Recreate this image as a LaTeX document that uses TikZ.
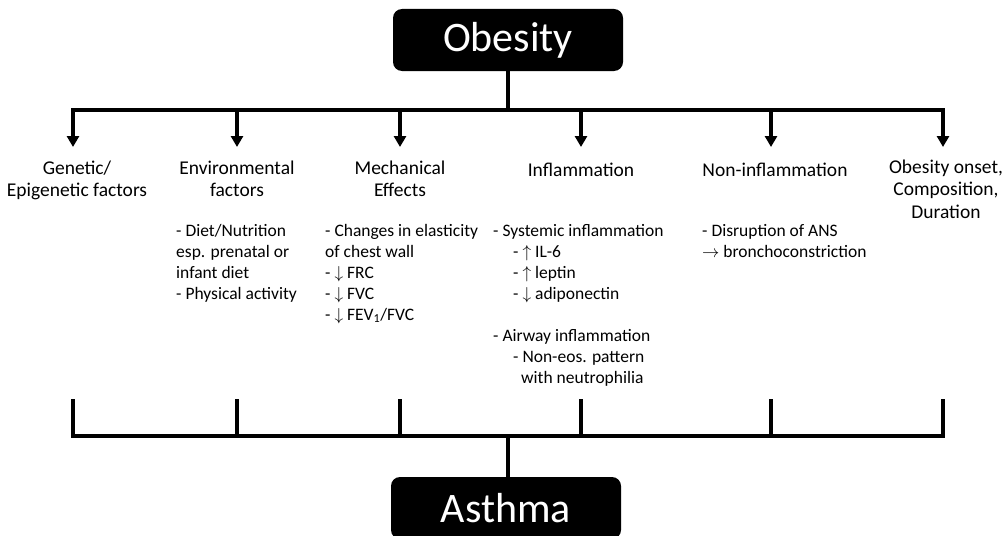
\documentclass[tikz,border=0pt]{standalone}
\usepackage{fontspec}
\setmainfont{Carlito}
\usetikzlibrary{arrows.meta}
\newcommand{\bstrut}{\rule{0pt}{15pt}}
\newcommand{\hstrut}{\rule{0pt}{17pt}}
\begin{document}
\begin{tikzpicture}[x=1pt,y=-1pt,
  bigbox/.style={fill=black, rounded corners=9pt, minimum width=230pt, minimum height=62pt, inner sep=0pt, text=white, font=\fontsize{42}{48}\selectfont},
  heading/.style={align=center, anchor=north, inner sep=0pt, font=\fontsize{19.5}{22.5}\selectfont},
  body/.style={align=left, anchor=north west, inner sep=0pt, font=\fontsize{17.5}{21}\selectfont},
  wire/.style={line width=3.3pt},
  arr/.style={wire, -{Triangle[width=12pt,length=11pt]}}
]
\useasboundingbox (0,0) rectangle (1008,535);
% main boxes
\node[bigbox] (obesity) at (508,40) {Obesity};
\node[bigbox] (asthma) at (506,508) {Asthma};
% junctions
\coordinate (tj) at (508,110);
\coordinate (tl) at (73,110);
\coordinate (tr) at (943,110);
\coordinate (bj) at (508,436);
\coordinate (bl) at (73,436);
\coordinate (br) at (943,436);
\foreach \i/\x in {1/73,2/237,3/400,4/581,5/771,6/943}{
  \coordinate (t\i) at (\x,110);
  \coordinate (a\i) at (\x,147);
  \coordinate (u\i) at (\x,401);
  \coordinate (b\i) at (\x,436);
}
\draw[wire] (obesity.south) -- (tj);
\draw[wire, line cap=rect] (tl) -- (tr);
\foreach \i in {1,...,6}{ \draw[arr] (t\i) -- (a\i); }
\foreach \i in {1,...,6}{ \draw[wire, line cap=rect] (u\i) -- (b\i); }
\draw[wire, line cap=rect] (bl) -- (br);
\draw[wire] (bj) -- (bj |- asthma.north);
% headings (first baseline = y + 17)
\node[heading] (h1) at (77,157) {\hstrut Genetic/\\Epigenetic factors};
\node[heading] (h2) at (237,157) {\hstrut Environmental\\factors};
\node[heading] (h3) at (400,157) {\hstrut Mechanical\\Effects};
\node[heading] (h4) at (581,159) {\hstrut Inflammation};
\node[heading] (h5) at (775,159) {\hstrut Non-inflammation};
\node[heading] (h6) at (946,156) {\hstrut Obesity onset,\\Composition,\\Duration};
% bodies (first baseline = y + 15)
\node[body] (e2) at (176,221) {\bstrut - Diet/Nutrition\\esp. prenatal or\\infant diet\\- Physical activity};
\node[body] (e3) at (325,221) {\bstrut - Changes in elasticity\\of chest wall\\- $\downarrow$ FRC\\- $\downarrow$ FVC\\- $\downarrow$ FEV\textsubscript{1}/FVC};
\node[body] (e4) at (493,221) {\bstrut - Systemic inflammation\\\hspace*{20pt}- $\uparrow$ IL-6\\\hspace*{20pt}- $\uparrow$ leptin\\\hspace*{20pt}- $\downarrow$ adiponectin\\[21pt]- Airway inflammation\\\hspace*{20pt}- Non-eos. pattern\\\hspace*{28pt}with neutrophilia};
\node[body] (e5) at (702,221) {\bstrut - Disruption of ANS\\$\rightarrow$ bronchoconstriction};
\end{tikzpicture}
\end{document}
